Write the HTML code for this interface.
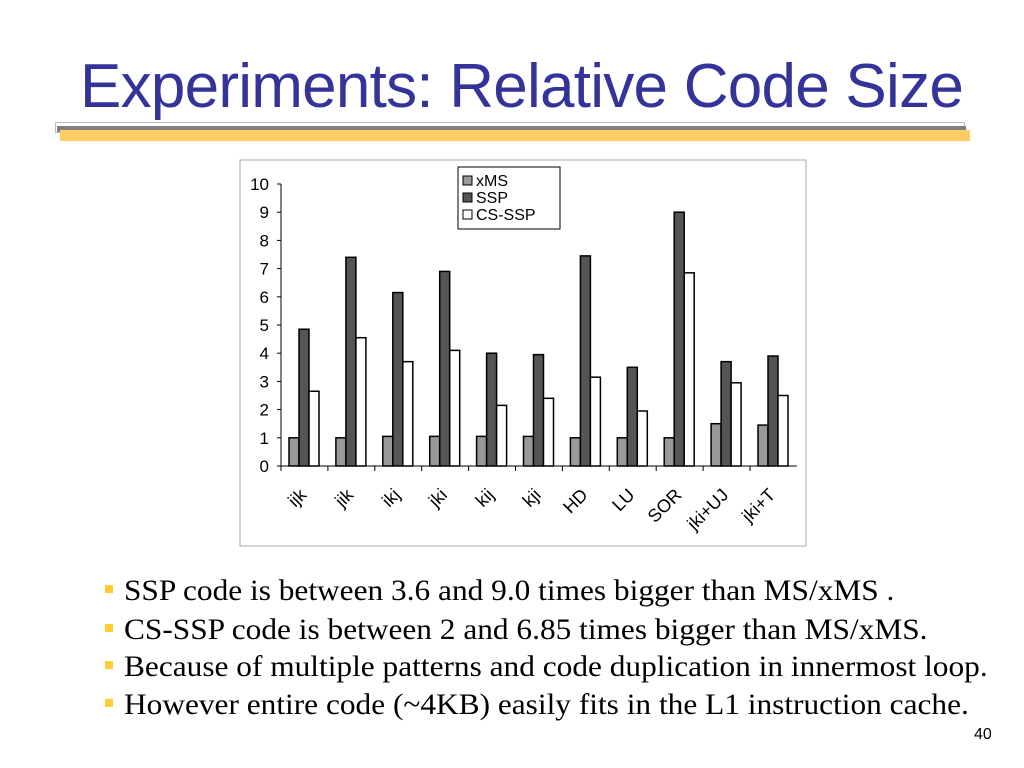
<!DOCTYPE html>
<html><head><meta charset="utf-8"><style>
body{margin:0;width:1024px;height:768px;background:#fff;position:relative;overflow:hidden;font-family:"Liberation Sans",sans-serif}
.t{position:absolute;left:80px;top:52px;font-size:62px;color:#333399;letter-spacing:-0.75px;line-height:70px;white-space:nowrap}
.b{position:absolute;left:124px;font-family:"Liberation Serif",serif;font-size:30px;line-height:33px;color:#000;white-space:nowrap;transform-origin:0 0;transform:scaleX(1.045)}
.sq{position:absolute;left:105px;width:8px;height:8px;background:#ffcc33}
</style></head><body>
<div class="t">Experiments: Relative Code Size</div>
<div style="position:absolute;left:55px;top:122px;width:910px;height:11px;border:1px solid #bbb;box-sizing:border-box"></div>
<div style="position:absolute;left:57px;top:126px;width:909px;height:6px;background:#808080"></div>
<div style="position:absolute;left:60px;top:130px;width:910px;height:11px;background:#ffcc66"></div>
<svg width="1024" height="768" style="position:absolute;left:0;top:0">
<rect x="240" y="160" width="566" height="386" fill="#fff" stroke="#aaa"/>
<g id="g"></g>
</svg>
<div class="sq" style="top:585px"></div>
<div class="b" style="top:574px">SSP code is between 3.6 and 9.0 times bigger than MS/xMS .</div>
<div class="sq" style="top:624px"></div>
<div class="b" style="top:613px">CS-SSP code is between 2 and 6.85 times bigger than MS/xMS.</div>
<div class="sq" style="top:661px"></div>
<div class="b" style="top:650px">Because of multiple patterns and code duplication in innermost loop.</div>
<div class="sq" style="top:699px"></div>
<div class="b" style="top:688px">However entire code (~4KB) easily fits in the L1 instruction cache.</div>
<div style="position:absolute;left:974px;top:726px;font-size:16px">40</div>
<script>
const categories=["ijk","jik","ikj","jki","kij","kji","HD","LU","SOR","jki+UJ","jki+T"];
const xms=[1,1,1.05,1.05,1.05,1.05,1,1,1,1.5,1.45];
const ssp=[4.85,7.4,6.15,6.9,4,3.95,7.45,3.5,9,3.7,3.9];
const csssp=[2.65,4.55,3.7,4.1,2.15,2.4,3.15,1.95,6.85,2.95,2.5];
const yTicks=[0,1,2,3,4,5,6,7,8,9,10];
const NS="http://www.w3.org/2000/svg",g=document.getElementById('g');
const x0=281,gw=46.9,y0=466,yTop=184;
const Y=v=>y0-(y0-yTop)*v/10;
function el(t,a){const e=document.createElementNS(NS,t);for(const k in a)e.setAttribute(k,a[k]);g.appendChild(e);return e;}
let ax=el('line',{x1:x0,y1:yTop,x2:x0,y2:y0,stroke:'#000'});


let bx=el('line',{x1:x0-4,y1:y0,x2:x0+gw*categories.length,y2:y0,stroke:'#000'});


yTicks.forEach(v=>{
 el('line',{x1:x0-4,y1:Y(v),x2:x0,y2:Y(v),stroke:'#000'});
 const t=el('text',{x:x0-12,y:Y(v)+6,'text-anchor':'end','font-size':17,fill:'#000'});t.textContent=v;
 
 
});
const series=[[xms,'#999999','xms'],[ssp,'#555555','ssp'],[csssp,'#ffffff','cs-ssp']];
categories.forEach((c,i)=>{
 const gx=x0+gw*i;
 el('line',{x1:gx,y1:y0,x2:gx,y2:y0+5,stroke:'#000'});
 series.forEach((s,j)=>{
  const r=el('rect',{x:gx+8+j*10,y:Y(s[0][i]),width:10,height:y0-Y(s[0][i]),fill:s[1],stroke:'#000','stroke-width':1.5});
  
  
 });
 const cx=gx+gw/2+3,cy=y0+30;
 const t=el('text',{x:cx,y:cy,'text-anchor':'end','font-size':18,fill:'#000',transform:`rotate(-45 ${cx} ${cy})`});
 t.textContent=c;
 
 
});
const lg=el('rect',{x:458,y:167,width:102,height:62,fill:'#fff',stroke:'#000'});


[['xMS','#999999'],['SSP','#555555'],['CS-SSP','#ffffff']].forEach((l,k)=>{
 el('rect',{x:463,y:176+k*17,width:9,height:9,fill:l[1],stroke:'#000'});
 const t=el('text',{x:476,y:186+k*17,'font-size':16,fill:'#000'});t.textContent=l[0];
 
 
});
</script>
</body></html>
